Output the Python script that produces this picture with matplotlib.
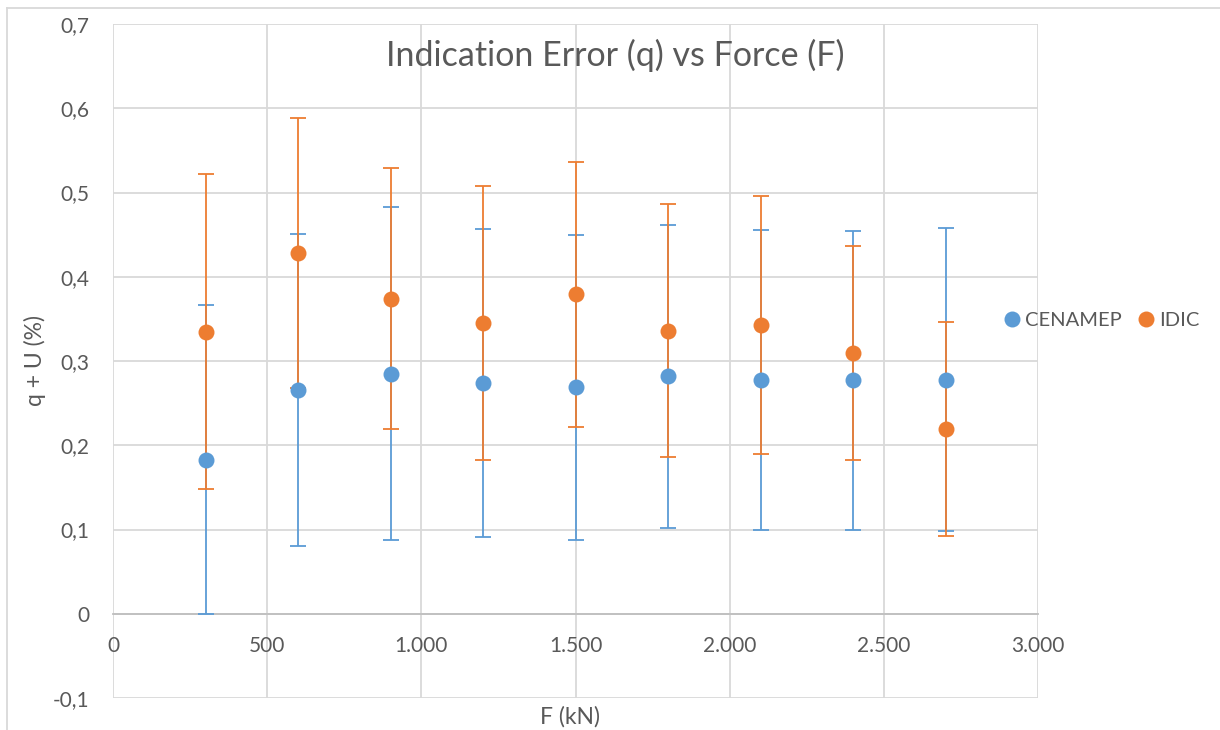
import matplotlib
matplotlib.use("Agg")
import matplotlib.pyplot as plt
from matplotlib.ticker import FuncFormatter, MultipleLocator
from matplotlib.lines import Line2D

# ---- data ----
force_kN = [300, 600, 900, 1200, 1500, 1800, 2100, 2400, 2700]
cenamep_q = [0.183, 0.266, 0.285, 0.274, 0.269, 0.282, 0.278, 0.277, 0.278]
cenamep_U = [0.183, 0.185, 0.198, 0.183, 0.181, 0.180, 0.178, 0.177, 0.180]
idic_q = [0.335, 0.428, 0.374, 0.345, 0.379, 0.336, 0.343, 0.309, 0.219]
idic_U = [0.187, 0.160, 0.155, 0.163, 0.157, 0.150, 0.153, 0.127, 0.127]
series_names = ["CENAMEP", "IDIC"]
title = "Indication Error (q) vs Force (F)"
xlabel = "F (kN)"
ylabel = "q + U (%)"

BLUE = "#5B9BD5"
ORANGE = "#ED7D31"
TXT = "#595959"
GRID = "#D9D9D9"

plt.rcParams['font.family'] = ['Lato', 'DejaVu Sans']

W, H = 1220, 730
fig = plt.figure(figsize=(W / 100, H / 100), dpi=100)
L, R, T, B = 113, 1038, 24, 698
ax = fig.add_axes([L / W, 1 - B / H, (R - L) / W, (B - T) / H])

ax.set_xlim(0, 3000)
ax.set_ylim(-0.1, 0.7)
ax.xaxis.set_major_locator(MultipleLocator(500))
ax.yaxis.set_major_locator(MultipleLocator(0.1))
ax.grid(True, color=GRID, lw=1.3, zorder=0)
ax.set_axisbelow(True)

for s in ["top", "right", "left"]:
    ax.spines[s].set_visible(False)
ax.spines["bottom"].set_position(("data", 0))
ax.spines["bottom"].set_color("#BFBFBF")
ax.spines["bottom"].set_linewidth(1.3)
ax.spines["bottom"].set_zorder(1)


def yfmt(v, pos):
    if abs(v) < 1e-9:
        return "0"
    return f"{v:.1f}".replace(".", ",")


def xfmt(v, pos):
    return f"{int(round(v)):,}".replace(",", ".")


ax.yaxis.set_major_formatter(FuncFormatter(yfmt))
ax.xaxis.set_major_formatter(FuncFormatter(xfmt))
ax.tick_params(axis="both", length=0, labelsize=15, labelcolor=TXT)
ax.tick_params(axis="x", pad=16)
ax.tick_params(axis="y", pad=17)

ekw = dict(fmt="none", elinewidth=1.3, capsize=6, capthick=1.3)
ax.errorbar(force_kN, cenamep_q, yerr=cenamep_U, ecolor=BLUE, zorder=3, **ekw)
ax.errorbar(force_kN, idic_q, yerr=idic_U, ecolor=ORANGE, zorder=4, **ekw)
ax.plot(force_kN, cenamep_q, "o", color=BLUE, ms=11.5, mec="none", zorder=5)
ax.plot(force_kN, idic_q, "o", color=ORANGE, ms=11.5, mec="none", zorder=6)

fig.text(615 / W, 1 - 55 / H, title, ha="center", va="center",
         fontsize=24.5, color=TXT)
fig.text(570 / W, 1 - 717 / H, xlabel, ha="center", va="center",
         fontsize=16.5, color=TXT)
fig.text(35 / W, 1 - 361 / H, ylabel, ha="center", va="center",
         rotation=90, fontsize=16.5, color=TXT)

handles = [Line2D([], [], marker="o", ls="none", color=c, ms=11.5, mec="none")
           for c in (BLUE, ORANGE)]
fig.legend(handles, series_names, loc="center left",
           bbox_to_anchor=(982 / W, 1 - 320 / H), ncol=2, frameon=False,
           handletextpad=0.05, columnspacing=0.6, handlelength=1.2,
           fontsize=14.5, labelcolor=TXT)

# chart area border
fig.add_artist(Line2D([7 / W, 7 / W], [0, 1 - 8 / H], color=GRID, lw=1.3,
                      transform=fig.transFigure))
fig.add_artist(Line2D([7 / W, 1], [1 - 8 / H, 1 - 8 / H], color=GRID, lw=1.3,
                      transform=fig.transFigure))

fig.savefig("out.png", dpi=100)
